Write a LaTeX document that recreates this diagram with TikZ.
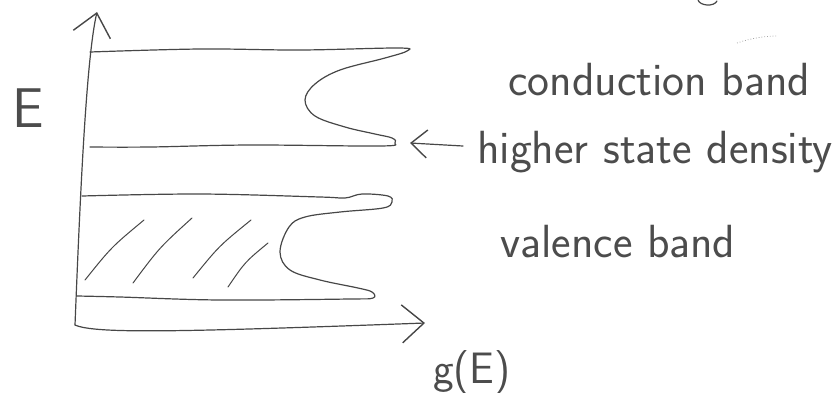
\documentclass[tikz,border=0pt]{standalone}
\usepackage{tikz}
\usetikzlibrary{arrows.meta,positioning,calc}

\begin{document}
\begin{tikzpicture}[
    x=1pt, y=-1pt,
    pencil/.style={draw=black!72, line width=1.2pt, line cap=round, line join=round},
    axisarrow/.style={pencil, -{Straight Barb[length=22pt, width=38pt, line width=1.4pt]}},
    notearrow/.style={pencil, -{Straight Barb[length=16pt, width=28pt, line width=1.4pt]}},
    hand/.style={inner sep=0pt, anchor=base west, text=black!70, font=\sffamily\fontsize{46.5}{52}\selectfont}
]
\useasboundingbox (0,0) rectangle (840,392);

% axes
\coordinate (origin) at (75,325);
\coordinate (ytip) at (97,12);
\coordinate (xtip) at (425,323);
\draw[axisarrow] (origin) .. controls (80,200) and (86,60) .. (ytip);
\draw[axisarrow] (origin) .. controls (95,334) and (180,332) .. (xtip);

\node[hand, font=\sffamily\fontsize{56}{60}\selectfont] (elabel) at (12,127) {E};
\node[hand, font=\sffamily\fontsize{44}{50}\selectfont] (gE) at (433,383) {g(E)};

% conduction band
\draw[pencil] plot[smooth, tension=0.6] coordinates {
    (90,52) (200,49) (300,50) (398,48) (407,51) (385,58) (340,70) (315,84)
    (305,100) (315,116) (345,127) (375,134) (392,138) (395,143) (380,146)
    (250,145) (150,147) (90,147)};
\coordinate (cbtip) at (410,143);

% valence band
\draw[pencil] plot[smooth, tension=0.6] coordinates {
    (82,196) (200,194) (320,197) (345,198) (362,194) (388,196) (392,202)
    (383,208) (340,212) (305,217) (289,227) (280,252) (290,270) (320,280)
    (358,288) (372,292) (373,298) (350,299) (220,300) (120,297) (77,296)};

% filled states
\foreach \xa/\ya/\xb/\yb in {85/280/144/220, 133/283/192/218, 193/278/251/220, 228/287/268/243}
    \draw[pencil, line width=1pt] (\xa,\ya) .. controls ($(\xa,\ya)!0.5!(\xb,\yb)+(-3,-3)$) .. (\xb,\yb);

% labels
\node[hand] (cb) at (508,95) {conduction band};
\node[hand] (hsd) at (477,163) {higher state density};
\node[hand] (vb) at (500,257) {valence band};
\draw[notearrow] ([shift={(-14,-17)}]hsd.base west) -- (cbtip);

% stray marks
\draw[pencil] (698,0) .. controls (700,6) and (714,7) .. (717,1);
\draw[draw=black!35, line width=0.8pt, dotted] (737,43) .. controls (752,38) and (765,36) .. (778,36);
\end{tikzpicture}
\end{document}
